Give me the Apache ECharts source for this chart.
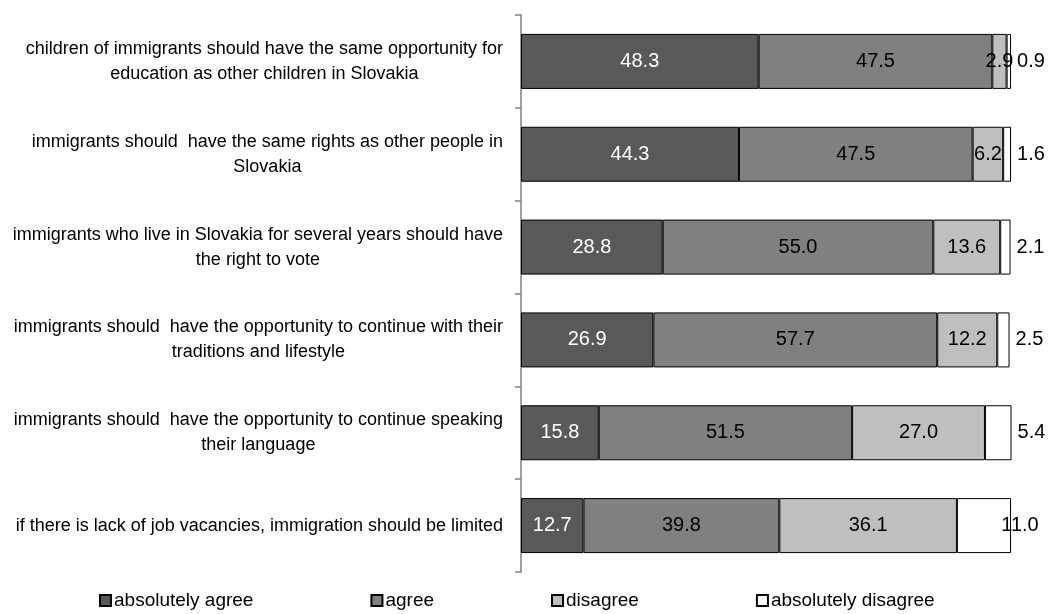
<!DOCTYPE html>
<html>
<head>
<meta charset="utf-8">
<script src="https://cdn.jsdelivr.net/npm/echarts@6/dist/echarts.min.js"></script>
<style>html,body{margin:0;padding:0;background:#fff}#c{width:1052px;height:614px}</style>
</head>
<body>
<div id="c"></div>
<script>
const categories = [
  "children of immigrants should have the same opportunity for\neducation as other children in Slovakia",
  "immigrants should  have the same rights as other people in\nSlovakia",
  "immigrants who live in Slovakia for several years should have\nthe right to vote",
  "immigrants should  have the opportunity to continue with their\ntraditions and lifestyle",
  "immigrants should  have the opportunity to continue speaking\ntheir language",
  "if there is lack of job vacancies, immigration should be limited"
];
const seriesNames = ["absolutely agree", "agree", "disagree", "absolutely disagree"];
const absolutelyAgree = [48.3, 44.3, 28.8, 26.9, 15.8, 12.7];
const agree = [47.5, 47.5, 55.0, 57.7, 51.5, 39.8];
const disagree = [2.9, 6.2, 13.6, 12.2, 27.0, 36.1];
const absolutelyDisagree = [0.9, 1.6, 2.1, 2.5, 5.4, 11.0];

const FONT = "Liberation Sans";
const fills = ["#595959", "#808080", "#bfbfbf", "#ffffff"];
const labelColors = ["#ffffff", "#000000", "#000000", "#000000"];
const values = [absolutelyAgree, agree, disagree, absolutelyDisagree];

const series = values.map((arr, k) => ({
  name: seriesNames[k],
  type: 'bar',
  stack: 'total',
  barWidth: 55,
  itemStyle: { color: fills[k], borderColor: '#000', borderWidth: 1 },
  label: {
    show: true,
    position: k === 3 ? 'right' : 'inside',
    distance: 6,
    color: labelColors[k],
    fontFamily: FONT,
    fontSize: 20,
    formatter: p => p.value.toFixed(1)
  },
  emphasis: { disabled: true },
  data: k === 3 ? arr.map(v => v > 10 ? { value: v, label: { position: 'inside', offset: [36, 0] } } : v) : arr
}));

const chart = echarts.init(document.getElementById('c'), null, { renderer: 'canvas' });
chart.setOption({
  animation: false,
  grid: { left: 521, right: 39, top: 15, bottom: 42, containLabel: false },
  legend: {
    data: seriesNames,
    top: 591,
    left: 99,
    padding: 0,
    itemWidth: 11,
    itemHeight: 11,
    itemGap: 117,
    icon: 'rect',
    textStyle: { fontFamily: FONT, fontSize: 19, color: '#000', padding: [0, 0, 0, -2] }
  },
  xAxis: {
    type: 'value', min: 0, max: 100,
    show: false
  },
  yAxis: {
    type: 'category',
    inverse: true,
    data: categories,
    axisLine: { lineStyle: { color: '#808080', width: 1.5 } },
    axisTick: { show: true, length: 6, lineStyle: { color: '#808080', width: 1.5 } },
    axisLabel: {
      margin: 18,
      align: 'right',
      formatter: v => v.split('\n').map(l => '{c|' + l + '}').join('\n'),
      rich: { c: { align: 'center', fontFamily: FONT, fontSize: 18, lineHeight: 25, color: '#000' } }
    }
  },
  series: series
});
</script>
</body>
</html>
